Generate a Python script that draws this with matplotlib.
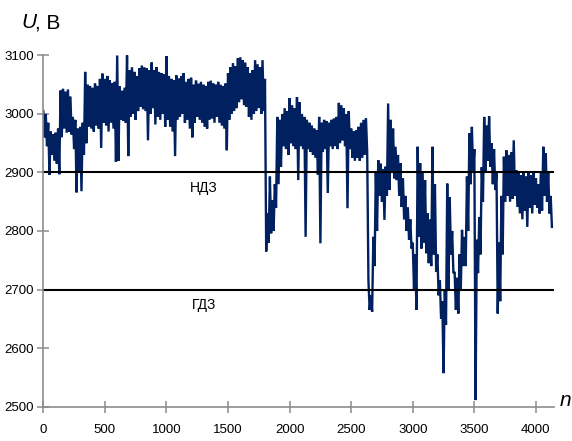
import numpy as np
import matplotlib
matplotlib.use('Agg')
import matplotlib.pyplot as plt

plt.rcParams['font.family'] = ['Liberation Sans', 'DejaVu Sans']

# sample step of the digitised envelope (n units)
step = 20

# upper and lower edge of the noisy band, every 20 samples
u_hi = [3005, 3000, 2985, 2970, 2965, 2968, 2975, 3040, 3043, 3038,
        3042, 3030, 2995, 2990, 2975, 2978, 2985, 3072, 3050, 3048,
        3045, 3052, 3048, 3060, 3069, 3060, 3065, 3058, 3053, 3055,
        3100, 3047, 3040, 3045, 3100, 3075, 3080, 3072, 3065, 3078,
        3083, 3080, 3078, 3075, 3088, 3075, 3080, 3072, 3070, 3068,
        3099, 3065, 3060, 3058, 3066, 3061, 3065, 3070, 3055, 3060,
        3062, 3050, 3057, 3052, 3055, 3050, 3048, 3055, 3057, 3052,
        3050, 3055, 3050, 3048, 3052, 3070, 3080, 3087, 3082, 3095,
        3097, 3092, 3088, 3080, 3070, 3075, 3092, 3085, 3080, 3092,
        3060, 2830, 2893, 2853, 2880, 2995, 2990, 3000, 3010, 3005,
        3027, 3015, 3010, 3029, 3020, 3000, 2995, 2990, 2985, 2980,
        2975, 2972, 2995, 2985, 2990, 2988, 2985, 2990, 2992, 2995,
        3019, 3015, 3010, 3000, 3005, 2975, 2970, 2972, 2978, 2985,
        2990, 2993, 2716, 2690, 2790, 2900, 2921, 2915, 2905, 2910,
        3018, 2990, 2975, 2944, 2930, 2916, 2890, 2860, 2840, 2820,
        2780, 2760, 2944, 2916, 2900, 2887, 2830, 2820, 2944, 2880,
        2760, 2716, 2680, 2700, 2881, 2858, 2800, 2730, 2720, 2760,
        2802, 2790, 2893, 2967, 2978, 2940, 2785, 2824, 2909, 2995,
        2980, 2996, 2950, 2940, 2900, 2780, 2860, 2927, 2938, 2930,
        2935, 2955, 2904, 2900, 2895, 2900, 2893, 2900, 2895, 2900,
        2890, 2880, 2900, 2944, 2933, 2900, 2860]

u_lo = [2960, 2945, 2896, 2930, 2920, 2915, 2897, 2960, 2975, 2968,
        2970, 2965, 2940, 2866, 2900, 2868, 2930, 2950, 2978, 2975,
        2970, 2980, 2975, 2942, 2985, 2980, 2970, 2985, 2975, 2918,
        2920, 2990, 2988, 2985, 2928, 2995, 3000, 2990, 3005, 3012,
        3008, 3005, 2955, 3000, 3010, 2982, 2995, 2990, 3000, 2978,
        2990, 2978, 2970, 2928, 2990, 2995, 3000, 2985, 2990, 2975,
        2960, 2985, 2995, 2990, 2985, 2978, 2975, 2990, 2992, 2985,
        2995, 2985, 2980, 2975, 2938, 2990, 3000, 3005, 3010, 3020,
        3025, 3015, 3012, 2995, 2990, 3000, 3005, 3010, 3000, 3005,
        2765, 2780, 2796, 2800, 2840, 2880, 2910, 2945, 2940, 2930,
        2950, 2945, 2940, 2887, 2945, 2940, 2790, 2940, 2935, 2930,
        2925, 2896, 2779, 2935, 2940, 2865, 2945, 2940, 2945, 2940,
        2950, 2955, 2945, 2839, 2940, 2925, 2920, 2925, 2920, 2925,
        2930, 2935, 2665, 2662, 2740, 2800, 2860, 2850, 2819, 2860,
        2870, 2900, 2890, 2887, 2860, 2841, 2820, 2800, 2785, 2770,
        2700, 2665, 2790, 2770, 2780, 2762, 2745, 2740, 2760, 2730,
        2690, 2650, 2557, 2640, 2700, 2760, 2728, 2665, 2659, 2700,
        2740, 2740, 2800, 2880, 2900, 2511, 2728, 2760, 2850, 2900,
        2920, 2910, 2880, 2870, 2659, 2680, 2760, 2850, 2860, 2850,
        2855, 2860, 2841, 2830, 2820, 2835, 2807, 2840, 2830, 2845,
        2840, 2830, 2835, 2860, 2850, 2830, 2807]

levels = [2900, 2700]
level_names = ['НДЗ', 'ГДЗ']

y_ticks = [2500, 2600, 2700, 2800, 2900, 3000, 3100]
x_ticks = [0, 500, 1000, 1500, 2000, 2500, 3000, 3500, 4000]

# interleave upper and lower edges so the line zig-zags like the raw signal
n_hi = np.arange(len(u_hi)) * step
n_lo = n_hi + step / 2
n = np.column_stack([n_hi, n_lo]).ravel()
u = np.column_stack([u_hi, u_lo]).ravel()

fig = plt.figure(figsize=(5.72, 4.41), dpi=100)
ax = fig.add_axes([0.0757, 0.0782, 0.892, 0.796])

ax.plot(n, u, color='#002060', lw=1.7, solid_joinstyle='miter')

xmax = 4143
for lev, name in zip(levels, level_names):
    ax.axhline(lev, color='black', lw=1.5)
    ax.text(1305, lev - 27, name, ha='center', va='center', fontsize=10)

ax.set_xlim(0, xmax)
ax.set_ylim(2500, 3100)
ax.set_xticks(x_ticks)
ax.set_yticks(y_ticks)

for s in ['top', 'right']:
    ax.spines[s].set_visible(False)
for s in ['left', 'bottom']:
    ax.spines[s].set_color('#8c8c8c')
    ax.spines[s].set_linewidth(1.2)
ax.tick_params(direction='inout', length=9, width=1.1, color='#8c8c8c',
               labelsize=9.5, pad=2)
ax.tick_params(axis='x', pad=8)

fig.text(0.038, 0.948, 'U', fontsize=15, style='italic', va='center')
fig.text(0.062, 0.948, ', В', fontsize=15, va='center')
fig.text(0.978, 0.092, 'n', fontsize=15, style='italic', va='center', ha='left')

fig.savefig('out.png', dpi=100)
